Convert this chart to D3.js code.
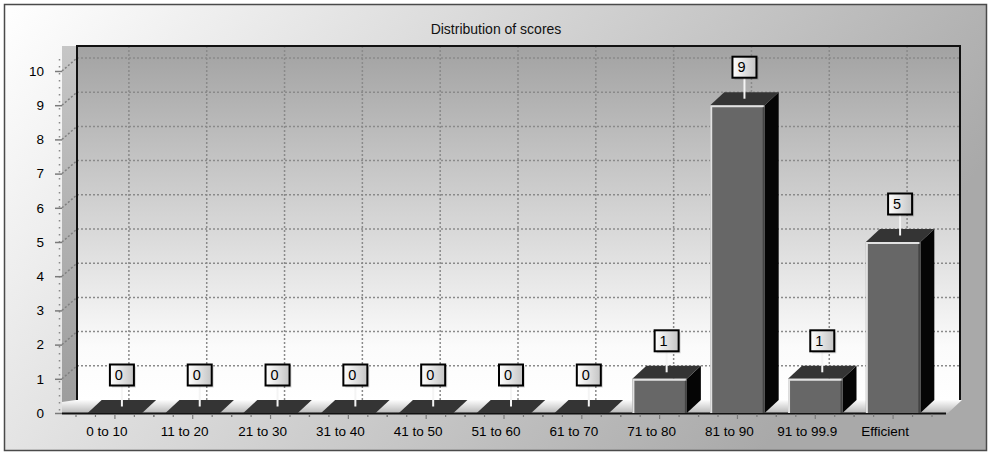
<!DOCTYPE html>
<html>
<head>
<meta charset="utf-8">
<script src="https://cdn.jsdelivr.net/npm/d3@7"></script>
<style>
  body { margin: 0; background: #fff; }
  svg { display: block; font-family: "Liberation Sans", Arial, sans-serif; }
</style>
</head>
<body>
<script>
// chart data
const categories = ["0 to 10", "11 to 20", "21 to 30", "31 to 40", "41 to 50", "51 to 60",
                    "61 to 70", "71 to 80", "81 to 90", "91 to 99.9", "Efficient"];
const counts = [0, 0, 0, 0, 0, 0, 0, 1, 9, 1, 5];
const yTicks = [0, 1, 2, 3, 4, 5, 6, 7, 8, 9, 10];
const title = "Distribution of scores";

const W = 990, H = 454;
const dx = 14, dy = -13;          // 3d depth offset
const wallL = 77, wallR = 960, wallT = 46;

const svg = d3.select("body").append("svg")
  .attr("width", W)
  .attr("height", H);

const defs = svg.append("defs");

const bgGrad = defs.append("linearGradient").attr("id", "bg")
  .attr("x1", 0).attr("y1", 0).attr("x2", 1).attr("y2", 0.35);
bgGrad.append("stop").attr("offset", 0).attr("stop-color", "#ffffff");
bgGrad.append("stop").attr("offset", 1).attr("stop-color", "#a9a9a9");

const wallGrad = defs.append("linearGradient").attr("id", "wall")
  .attr("x1", 0).attr("y1", 0).attr("x2", 0).attr("y2", 1);
wallGrad.append("stop").attr("offset", 0).attr("stop-color", "#a2a2a2");
wallGrad.append("stop").attr("offset", 0.85).attr("stop-color", "#fbfbfb");
wallGrad.append("stop").attr("offset", 1).attr("stop-color", "#ffffff");

const sideGrad = defs.append("linearGradient").attr("id", "side")
  .attr("x1", 0).attr("y1", 0).attr("x2", 0).attr("y2", 1);
sideGrad.append("stop").attr("offset", 0).attr("stop-color", "#c6c6c6");
sideGrad.append("stop").attr("offset", 1).attr("stop-color", "#9c9c9c");

const floorGrad = defs.append("linearGradient").attr("id", "floor")
  .attr("x1", 0).attr("y1", 0).attr("x2", 0).attr("y2", 1);
floorGrad.append("stop").attr("offset", 0).attr("stop-color", "#fdfdfd");
floorGrad.append("stop").attr("offset", 1).attr("stop-color", "#b9b9b9");

const boxGrad = defs.append("linearGradient").attr("id", "box")
  .attr("x1", 0).attr("y1", 0).attr("x2", 1).attr("y2", 0);
boxGrad.append("stop").attr("offset", 0).attr("stop-color", "#ffffff");
boxGrad.append("stop").attr("offset", 1).attr("stop-color", "#c4c4c4");

// background + outer border
svg.append("rect")
  .attr("x", 4.5).attr("y", 4.5).attr("width", 982).attr("height", 446)
  .attr("fill", "url(#bg)")
  .attr("stroke", "#4a4a4a").attr("stroke-width", 1.5);

svg.append("text")
  .attr("x", 496).attr("y", 34)
  .attr("text-anchor", "middle")
  .attr("font-size", "14px")
  .attr("fill", "#111")
  .text(title);

// scales
const x = d3.scaleBand()
  .domain(categories)
  .range([76, 932])
  .paddingInner(0.3)
  .paddingOuter(0.15);

const y = d3.scaleLinear()
  .domain([0, 10])
  .range([413, 71]);

const y0 = y(0);

// back wall
svg.append("rect")
  .attr("x", wallL).attr("y", wallT)
  .attr("width", wallR - wallL).attr("height", y0 + dy - wallT)
  .attr("fill", "url(#wall)");

// horizontal grid on back wall
svg.append("g").selectAll("line")
  .data(yTicks.filter(d => d > 0))
  .enter().append("line")
  .attr("x1", wallL).attr("x2", wallR)
  .attr("y1", d => y(d) + dy).attr("y2", d => y(d) + dy)
  .attr("stroke", "#8a8a8a")
  .attr("stroke-width", 1.5)
  .attr("stroke-dasharray", "2,2");

// vertical grid on back wall
svg.append("g").selectAll("line")
  .data(categories)
  .enter().append("line")
  .attr("x1", d => x(d) + x.bandwidth() / 2 + dx)
  .attr("x2", d => x(d) + x.bandwidth() / 2 + dx)
  .attr("y1", wallT).attr("y2", y0 + dy)
  .attr("stroke", "#8a8a8a")
  .attr("stroke-width", 1.5)
  .attr("stroke-dasharray", "2,2");

// left side wall
svg.append("rect")
  .attr("x", 62).attr("y", wallT)
  .attr("width", wallL - 62).attr("height", y0 - wallT)
  .attr("fill", "url(#side)");

svg.append("g").selectAll("line")
  .data(yTicks.filter(d => d > 0))
  .enter().append("line")
  .attr("x1", 62).attr("x2", wallL)
  .attr("y1", d => y(d)).attr("y2", d => y(d) + dy)
  .attr("stroke", "#808080")
  .attr("stroke-width", 1.5)
  .attr("stroke-dasharray", "2,2");

// wall borders
svg.append("path")
  .attr("d", `M${wallL},${y0 + dy}V${wallT}H${wallR}V${y0 + dy}`)
  .attr("fill", "none")
  .attr("stroke", "#111")
  .attr("stroke-width", 2);

// floor
svg.append("polygon")
  .attr("points", [[62, y0], [wallR - 12, y0], [wallR + 2, y0 + dy], [62 + dx, y0 + dy], [62, y0 + dy + 2]].join(" "))
  .attr("fill", "url(#floor)");

svg.append("line")
  .attr("x1", 62).attr("x2", wallR - 14)
  .attr("y1", y0 + 0.5).attr("y2", y0 + 0.5)
  .attr("stroke", "#111").attr("stroke-width", 2);

// y axis
svg.append("line")
  .attr("x1", 59.5).attr("x2", 59.5)
  .attr("y1", y(10) - 12).attr("y2", y0)
  .attr("stroke", "#8a8a8a")
  .attr("stroke-width", 1.5)
  .attr("stroke-dasharray", "1.5,5.5");

const yAxis = svg.append("g")
  .attr("transform", "translate(62,0)")
  .call(d3.axisLeft(y).tickValues(yTicks).tickSize(7).tickPadding(11));
yAxis.select(".domain").remove();
yAxis.selectAll(".tick line").attr("stroke", "#7a7a7a").attr("stroke-width", 1.5);
yAxis.selectAll(".tick text")
  .attr("fill", "#000")
  .attr("font-size", "13.5px")
  .attr("font-family", "Liberation Sans, Arial, sans-serif");

// x axis ticks (major at category centre, minor quarters)
const step = x.step();
const xTickData = [];
categories.forEach(c => {
  [-2, -1, 0, 1, 2].forEach(k => xTickData.push({ c: c, k: k }));
});
svg.append("g").selectAll("line")
  .data(xTickData)
  .enter().append("line")
  .attr("x1", d => x(d.c) + x.bandwidth() / 2 + d.k * step / 4)
  .attr("x2", d => x(d.c) + x.bandwidth() / 2 + d.k * step / 4)
  .attr("y1", y0 + 1.5)
  .attr("y2", d => d.k === 0 ? y0 + 6 : y0 + 4)
  .attr("stroke", "#7a7a7a")
  .attr("stroke-width", 1.2);

const xAxis = svg.append("g")
  .attr("transform", `translate(-8,${y0})`)
  .call(d3.axisBottom(x).tickSize(0).tickPadding(13));
xAxis.select(".domain").remove();
xAxis.selectAll(".tick text")
  .attr("fill", "#000")
  .attr("font-size", "13.5px")
  .attr("font-family", "Liberation Sans, Arial, sans-serif");

// bars
const bars = svg.append("g").selectAll("g")
  .data(categories.map((c, i) => ({ c: c, v: counts[i] })))
  .enter().append("g");

const bw = x.bandwidth();

bars.filter(d => d.v > 0).append("polygon")      // side face
  .attr("points", d => {
    const x1 = x(d.c) + bw, t = y(d.v);
    return [[x1, t], [x1 + dx, t + dy], [x1 + dx, y0 + dy], [x1, y0]].join(" ");
  })
  .attr("fill", "#050505");

bars.append("polygon")                          // top face
  .attr("points", d => {
    const x0 = x(d.c), t = y(d.v);
    return [[x0, t], [x0 + bw, t], [x0 + bw + dx, t + dy], [x0 + dx, t + dy]].join(" ");
  })
  .attr("fill", "#343434");

bars.filter(d => d.v > 0).append("rect")         // front face
  .attr("x", d => x(d.c))
  .attr("y", d => y(d.v))
  .attr("width", bw)
  .attr("height", d => y0 - y(d.v))
  .attr("fill", "#676767");

bars.filter(d => d.v > 0).append("path")         // highlight edge
  .attr("d", d => `M${x(d.c) + 1},${y0}V${y(d.v) + 1}H${x(d.c) + bw - 1}`)
  .attr("fill", "none")
  .attr("stroke", "#e2e2e2")
  .attr("stroke-width", 2);

bars.filter(d => d.v > 0).append("line")         // dark right edge
  .attr("x1", d => x(d.c) + bw - 1).attr("x2", d => x(d.c) + bw - 1)
  .attr("y1", d => y(d.v) + 2).attr("y2", y0)
  .attr("stroke", "#444")
  .attr("stroke-width", 2);

// value labels
const boxW = 24, boxH = 21;
bars.each(function (d) {
  const g = d3.select(this);
  const cx = x(d.c) + bw / 2 + dx / 2;
  const cy = y(d.v) + dy / 2;
  const by = cy - 21;
  g.append("line")
    .attr("x1", cx).attr("x2", cx)
    .attr("y1", by).attr("y2", cy)
    .attr("stroke", "#f4f4f4")
    .attr("stroke-width", 2);
  g.append("rect")
    .attr("x", cx - boxW / 2 + 2).attr("y", by - boxH + 2)
    .attr("width", boxW).attr("height", boxH)
    .attr("fill", "#000").attr("opacity", 0.15);
  g.append("rect")
    .attr("x", cx - boxW / 2).attr("y", by - boxH)
    .attr("width", boxW).attr("height", boxH)
    .attr("fill", "url(#box)")
    .attr("stroke", "#000")
    .attr("stroke-width", 2);
  g.append("text")
    .attr("x", cx - 3).attr("y", by - 5.5)
    .attr("text-anchor", "middle")
    .attr("font-size", "14.5px")
    .attr("fill", "#000")
    .text(d.v);
});
</script>
</body>
</html>
